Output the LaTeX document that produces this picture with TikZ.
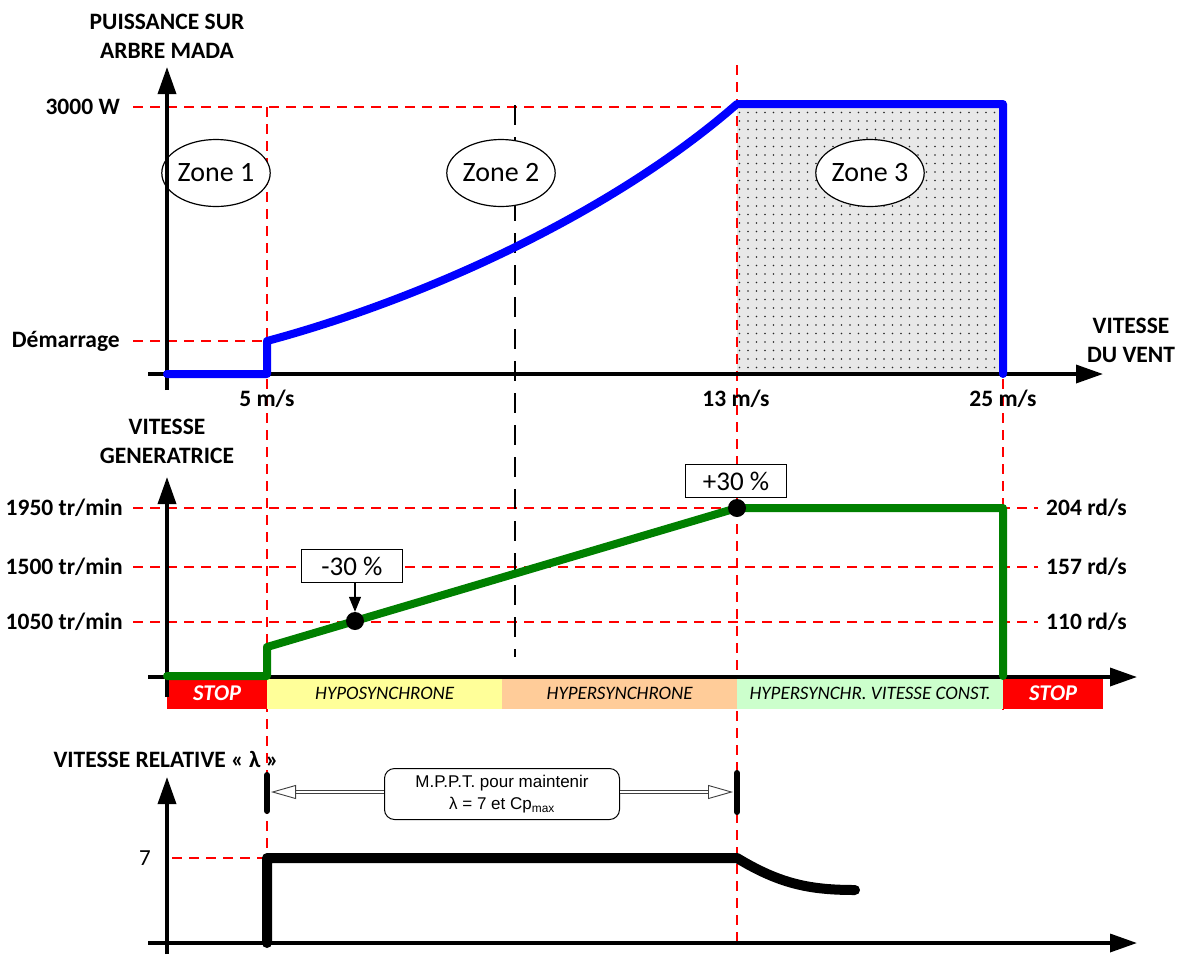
\documentclass[tikz,border=0pt]{standalone}
\usepackage{fontspec}
\setmainfont{Carlito}
\newfontfamily\arialfont{Liberation Sans}
\usetikzlibrary{arrows.meta,patterns.meta,shapes.geometric}
\definecolor{vent}{RGB}{0,0,255}
\definecolor{gene}{RGB}{0,128,0}
\definecolor{hypo}{RGB}{255,255,153}
\definecolor{hyper}{RGB}{255,204,153}
\definecolor{vconst}{RGB}{204,255,204}
\tikzset{
  axe/.style={line width=3.5pt,-{Triangle[length=27pt,width=18pt]}},
  repere/.style={red,line width=1.5pt,dash pattern=on 10pt off 7pt},
  lab/.style={font=\bfseries\fontsize{23.5}{29}\selectfont,align=center,inner sep=0pt},
  zone/.style={ellipse,draw,line width=1.2pt,fill=white,minimum width=101pt,minimum height=67pt,inner sep=0pt,font=\fontsize{28}{30}\selectfont},
  pct/.style={draw,line width=1.2pt,fill=white,minimum width=101pt,minimum height=33pt,inner sep=0pt,font=\fontsize{27}{30}\selectfont},
  bande/.style={anchor=north west,minimum height=32pt,inner sep=0pt,font=\itshape\fontsize{19}{21}\selectfont},
  stop/.style={bande,fill=red,text=white,font=\bfseries\itshape\fontsize{22.5}{24}\selectfont},
  point/.style={circle,fill=black,minimum size=18pt,inner sep=0pt},
  mppt/.style={draw,rounded corners=10pt,line width=1pt,minimum width=235pt,minimum height=51pt,align=center,font=\arialfont\fontsize{17}{22}\selectfont},
  creux/.style={double=white,double distance=2.5pt,line width=0.9pt,draw=black!75,-{Triangle[open,length=25pt,width=14pt,fill=white]}},
}
\begin{document}
\begin{tikzpicture}[x=1pt,y=-1pt]
\useasboundingbox (0,0) rectangle (1178,954);

\fill[gray!18] (737,107) rectangle (1003,374);
\fill[pattern={Dots[distance=8.5pt,radius=0.9pt]},pattern color=black!85] (737,107) rectangle (1003,374);

\draw[repere] (133,107) -- (737,107);
\draw[repere] (133,341) -- (267,341);
\draw[repere] (267,107) -- (267,945);
\draw[repere] (737,65) -- (737,945);
\draw[repere] (1003,107) -- (1003,710);
\foreach \y in {508,567,622}
  \draw[repere] (133,\y) -- (1038,\y);
\draw[repere] (172,858) -- (267,858);
\draw[line width=2.5pt,dash pattern=on 20pt off 12pt] (515,105) -- (515,657);

\node[zone] (z1) at (216,173) {Zone 1};
\node[zone] (z2) at (501,173) {Zone 2};
\node[zone] (z3) at (870,173) {Zone 3};

\node[stop,minimum width=100pt] (s1) at (167,677) {STOP};
\node[bande,fill=hypo,minimum width=235pt] (b1) at (267,677) {HYPOSYNCHRONE};
\node[bande,fill=hyper,minimum width=235pt] (b2) at (502,677) {HYPERSYNCHRONE};
\node[bande,fill=vconst,minimum width=266pt] (b3) at (737,677) {HYPERSYNCHR. VITESSE CONST.};
\node[stop,minimum width=100pt] (s2) at (1003,677) {STOP};

\draw[axe] (167,390) -- (167,67);
\draw[axe] (148,374) -- (1103,374);
\draw[axe] (167,697) -- (167,477);
\draw[axe] (148,677) -- (1137,677);
\draw[axe] (167,954) -- (167,777);
\draw[axe] (148,943) -- (1137,943);

\draw[vent,line width=8pt,line cap=round,line join=round] (167,374) -- (267,374) -- (267,341)
  .. controls (420,300) and (610,215) .. (737,104) -- (1003,104) -- (1003,374);
\draw[gene,line width=8pt,line cap=round,line join=round] (167,676) -- (267,676) -- (267,647)
  -- (737,508) -- (1003,508) -- (1003,676);
\draw[line width=10pt,line cap=round,line join=round] (267,943) -- (267,858) -- (737,858)
  .. controls (780,884) and (810,890) .. (855,890);

\node[point] (moins) at (355,621) {};
\node[point] (plus) at (737,508) {};
\node[pct] (moinsb) at (352,566) {-30 \%};
\node[pct] (plusb) at (736,481) {+30 \%};
\draw[line width=1.2pt,-{Triangle[length=15pt,width=12pt]}] (moins |- moinsb.south) -- (moins.north);

\draw[line width=6pt,line cap=round] (267,775) -- (267,811);
\draw[line width=6pt,line cap=round] (737,773) -- (737,812);
\coordinate (bA) at (271,792);
\coordinate (bB) at (733,792);
\node[mppt] (mp) at (502,794) {M.P.P.T. pour maintenir\\λ = 7 et Cp\textsubscript{max}};
\draw[creux] (mp.west |- bA) -- (bA);
\draw[creux] (mp.east |- bB) -- (bB);

\node[lab] (tp) at (167,36) {PUISSANCE SUR\\ARBRE MADA};
\node[lab,anchor=east] (p3000) at (120,107) {3000 W};
\node[lab,anchor=east] (pdem) at (120,341) {Démarrage};
\node[lab] (v5) at (267,399) {5 m/s};
\node[lab] (v13) at (736,399) {13 m/s};
\node[lab] (v25) at (1003,399) {25 m/s};
\node[lab] (tv) at (1131,340) {VITESSE\\DU VENT};
\node[lab] (tg) at (167,441) {VITESSE\\GENERATRICE};
\foreach \y/\t/\r in {508/1950/204,567/1500/157,622/1050/110} {
  \node[lab,anchor=east] at (123,\y) {\t\ tr/min};
  \node[lab,anchor=west] at (1046,\y) {\r\ rd/s};
}
\node[lab] (tl) at (166,759) {VITESSE RELATIVE « λ »};
\node[font=\fontsize{23}{25}\selectfont] (l7) at (145,858) {7};
\end{tikzpicture}
\end{document}
